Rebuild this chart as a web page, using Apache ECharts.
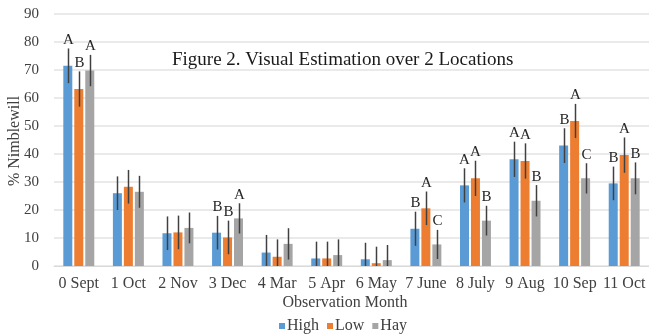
<!DOCTYPE html>
<html>
<head>
<meta charset="utf-8">
<script src="https://cdn.jsdelivr.net/npm/echarts@6/dist/echarts.min.js"></script>
<style>
  html, body { margin: 0; padding: 0; background: #ffffff; }
  #chart { width: 649px; height: 335px; }
</style>
</head>
<body>
<div id="chart"></div>
<script>
// Observation months and mean % Nimblewill per location
const months = ['0 Sept', '1 Oct', '2 Nov', '3 Dec', '4 Mar', '5 Apr', '6 May', '7 June', '8 July', '9 Aug', '10 Sep', '11 Oct'];
const high = [71.5, 26, 11.7, 11.9, 4.8, 2.7, 2.4, 13.3, 28.8, 38.1, 43, 29.5];
const low  = [63.2, 28.3, 12, 10.2, 3.3, 2.7, 1, 20.6, 31.3, 37.5, 51.8, 39.6];
const hay  = [69.8, 26.5, 13.6, 17, 7.9, 3.9, 2.1, 7.7, 16.2, 23.3, 31.3, 31.3];

// Error bar half-lengths
const highErr = [6.2, 6, 6, 6, 6.3, 6, 5.9, 6.1, 6.1, 6.3, 6.2, 6];
const lowErr  = [6.3, 6, 6, 6, 6.2, 6, 5.9, 6, 6.3, 6.3, 6.1, 6.3];
const hayErr  = [5.6, 5.7, 5.5, 5.4, 5.6, 5.6, 5.4, 5.2, 5.3, 5.6, 5.4, 5.7];

// Significance letters
const highLetters = ['A', '', '', 'B', '', '', '', 'B', 'A', 'A', 'B', 'B'];
const lowLetters  = ['B', '', '', 'B', '', '', '', 'A', 'A', 'A', 'A', 'A'];
const hayLetters  = ['A', '', '', 'A', '', '', '', 'C', 'B', 'B', 'C', 'B'];

const yTicks = [0, 10, 20, 30, 40, 50, 60, 70, 80, 90];

const SERIF = '"Liberation Serif", "DejaVu Serif", serif';
const colors = ['#5B9BD5', '#ED7D31', '#A5A5A5'];
const BAR_W = 9;
const BAR_STEP = 11;

function errorSeries(name, values, errs, letters, slot) {
  return {
    type: 'custom',
    name: name + ' err',
    z: 5,
    clip: false,
    data: values.map((v, i) => [i, v, errs[i]]),
    renderItem: function (params, api) {
      const idx = api.value(0);
      const v = api.value(1);
      const e = api.value(2);
      const letter = letters[idx];
      const top = api.coord([idx, v + e]);
      const bot = api.coord([idx, Math.max(v - e, 0)]);
      const x = Math.round(top[0] + (slot - 1) * BAR_STEP) + 0.5;
      const children = [{
        type: 'line',
        shape: { x1: x, y1: top[1], x2: x, y2: bot[1] },
        style: { stroke: '#404040', lineWidth: 1.5 }
      }];
      if (letter) {
        children.push({
          type: 'text',
          style: {
            text: letter, x: x, y: top[1] - 1,
            align: 'center', verticalAlign: 'bottom',
            font: '15px ' + SERIF, fill: '#262626'
          }
        });
      }
      return { type: 'group', children: children };
    }
  };
}

const chart = echarts.init(document.getElementById('chart'), null, { renderer: 'canvas' });

chart.setOption({
  animation: false,
  backgroundColor: '#ffffff',
  color: colors,
  grid: { left: 54, top: 14, width: 601, bottom: 69, containLabel: false },
  title: {
    text: 'Figure 2. Visual Estimation over 2 Locations',
    left: 167, top: 46,
    textStyle: { fontFamily: SERIF, fontSize: 19, fontWeight: 'normal', color: '#1a1a1a' }
  },
  legend: {
    data: ['High', 'Low', 'Hay'],
    left: 274, top: 313,
    icon: 'rect', itemWidth: 6, itemHeight: 6, itemGap: 8,
    textStyle: { fontFamily: SERIF, fontSize: 16, color: '#404040', padding: [0, 0, 0, -3] }
  },
  graphic: [
    {
      type: 'text',
      x: 345, y: 303,
      style: {
        text: 'Observation Month', font: '16px ' + SERIF, fill: '#404040',
        align: 'center', verticalAlign: 'middle'
      }
    },
    {
      type: 'text', rotation: Math.PI / 2,
      x: 15, y: 141,
      style: {
        text: '% Nimblewill', font: '16px ' + SERIF, fill: '#404040',
        align: 'center', verticalAlign: 'middle'
      }
    }
  ],
  xAxis: {
    type: 'category',
    data: months,
    axisTick: { show: false },
    axisLine: { lineStyle: { color: '#d9d9d9', width: 1 } },
    axisLabel: { fontFamily: SERIF, fontSize: 16, color: '#404040', margin: 10, interval: 0 }
  },
  yAxis: {
    type: 'value',
    min: yTicks[0], max: yTicks[yTicks.length - 1], interval: 10,
    axisLine: { show: false },
    axisTick: { show: false },
    splitLine: { lineStyle: { color: '#e3e3e3', width: 1.5 } },
    axisLabel: { fontFamily: SERIF, fontSize: 15, color: '#404040', margin: 15 }
  },
  series: [
    { name: 'High', type: 'bar', data: high, barWidth: BAR_W, barGap: '22%' },
    { name: 'Low', type: 'bar', data: low, barWidth: BAR_W, barGap: '22%' },
    { name: 'Hay', type: 'bar', data: hay, barWidth: BAR_W, barGap: '22%' },
    errorSeries('High', high, highErr, highLetters, 0),
    errorSeries('Low', low, lowErr, lowLetters, 1),
    errorSeries('Hay', hay, hayErr, hayLetters, 2)
  ]
});
</script>
</body>
</html>
